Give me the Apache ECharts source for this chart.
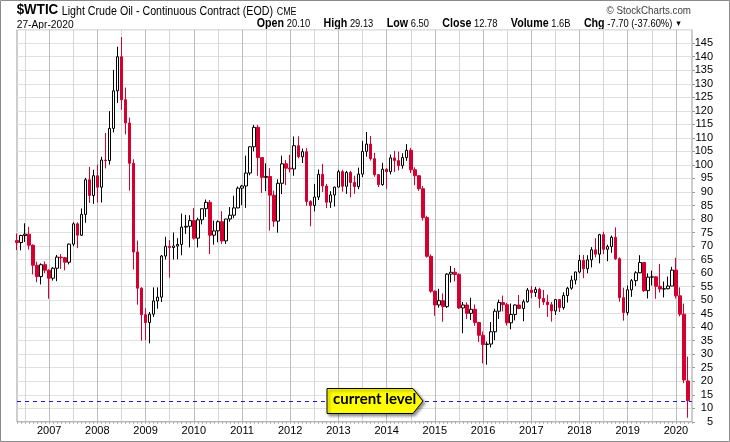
<!DOCTYPE html>
<html>
<head>
<meta charset="utf-8">
<script src="https://cdn.jsdelivr.net/npm/echarts@6/dist/echarts.min.js"></script>
<style>
  html, body { margin: 0; padding: 0; background: #fff; }
  #chart { width: 730px; height: 442px; }
</style>
</head>
<body>
<div id="chart"></div>
<script>
// monthly bars, May 2006 .. Apr 2020 (one spare slot on the right)
var firstYear = 2006, firstMonth = 5, barCount = 168, slotCount = 169;

var open = [
  72.0, 71.3, 73.9, 74.4, 70.3, 62.9, 58.7, 63.1,
  61.05, 58.1, 61.8, 65.9, 65.7, 64.0, 70.7, 78.2, 74.0, 81.7, 94.5, 88.7,
  96.0, 91.75, 101.8, 101.6, 113.5, 127.4, 140.0, 124.1, 115.5, 100.6, 67.8, 54.4,
  44.6, 41.7, 44.8, 49.7, 51.1, 66.3, 69.9, 69.45, 70.0, 70.6, 77.0, 77.3,
  79.4, 72.9, 79.7, 83.8, 86.15, 74.0, 75.6, 79.0, 71.9, 80.0, 81.4, 84.1,
  91.4, 92.2, 97.0, 106.7, 113.9, 102.7, 95.4, 95.7, 88.8, 79.2, 93.2, 100.4,
  98.8, 98.5, 107.1, 103.0, 104.9, 86.5, 85.0, 88.1, 96.5, 92.2, 86.2, 88.9,
  91.8, 97.5, 92.1, 97.2, 93.5, 92.0, 96.6, 105.0, 107.7, 102.3, 96.4, 92.7,
  98.4, 97.5, 102.6, 101.6, 99.7, 102.7, 105.4, 98.2, 96.0, 91.2, 80.5, 66.2,
  53.3, 48.2, 49.8, 47.6, 59.6, 60.3, 59.5, 47.1, 48.2, 45.1, 46.6, 41.7,
  37.0, 33.6, 33.75, 38.3, 45.9, 49.1, 48.3, 41.6, 44.7, 48.2, 46.9, 49.4,
  53.7, 52.8, 54.0, 50.6, 49.3, 48.3, 46.0, 50.2, 47.2, 51.7, 54.4, 57.4,
  60.4, 64.7, 61.6, 64.9, 68.6, 67.0, 74.2, 68.8, 69.8, 73.25, 65.3, 50.9,
  45.4, 53.8, 57.2, 60.1, 63.9, 53.5, 58.5, 58.6, 55.1, 54.1, 54.2, 55.2,
  61.1, 51.6, 44.8, 20.1
];
var high = [
  74.6, 74.2, 78.4, 77.1, 70.6, 64.2, 63.6, 64.3,
  61.4, 62.2, 66.7, 67.0, 66.0, 70.9, 78.8, 78.8, 83.9, 95.2, 99.3, 98.2,
  100.1, 103.0, 111.8, 119.9, 135.1, 143.7, 147.3, 128.6, 117.5, 102.1, 72.0, 54.8,
  47.0, 45.6, 54.7, 54.7, 66.7, 73.4, 72.2, 75.0, 72.9, 82.0, 81.5, 81.4,
  84.0, 80.5, 83.9, 87.2, 87.0, 79.4, 79.5, 82.9, 80.0, 84.4, 88.6, 92.0,
  92.6, 103.4, 106.9, 114.8, 114.8, 102.7, 100.6, 98.8, 90.5, 94.7, 103.4, 101.8,
  103.7, 110.5, 110.6, 106.0, 106.2, 86.9, 92.9, 98.3, 100.4, 93.0, 90.3, 91.9,
  98.2, 98.2, 97.8, 97.8, 96.0, 99.0, 108.9, 112.2, 110.7, 104.5, 96.6, 100.8,
  98.8, 103.8, 105.2, 104.9, 104.3, 107.7, 106.3, 99.1, 96.2, 92.2, 81.2, 66.9,
  53.6, 54.2, 52.5, 59.9, 62.6, 61.9, 59.9, 49.3, 49.2, 50.9, 48.4, 42.0,
  38.4, 34.7, 41.9, 46.8, 50.2, 51.7, 49.0, 48.75, 48.4, 51.9, 50.2, 54.5,
  55.2, 54.9, 54.6, 53.8, 52.0, 49.3, 50.4, 50.4, 52.9, 54.9, 59.05, 60.5,
  66.7, 66.7, 66.6, 69.6, 72.9, 74.5, 75.3, 70.5, 73.9, 76.9, 65.8, 54.6,
  55.4, 57.8, 60.7, 66.6, 63.9, 59.9, 60.9, 58.8, 63.4, 56.9, 58.7, 62.3,
  65.65, 54.7, 48.7, 29.13
];
var low = [
  68.5, 68.4, 71.5, 68.7, 59.5, 56.6, 55.8, 60.0,
  50.5, 57.2, 57.0, 61.5, 61.0, 63.2, 69.9, 69.2, 73.7, 78.6, 86.0, 85.6,
  86.1, 86.1, 98.7, 100.1, 112.0, 122.9, 120.4, 111.3, 90.5, 61.3, 48.3, 35.0,
  35.2, 34.0, 43.8, 46.8, 49.3, 65.0, 58.3, 65.0, 65.1, 66.6, 74.5, 69.5,
  72.4, 69.5, 78.0, 80.8, 67.0, 70.5, 71.4, 70.8, 70.8, 79.0, 80.3, 84.0,
  85.1, 84.1, 96.2, 105.0, 96.0, 89.6, 90.3, 75.7, 77.1, 74.95, 89.2, 92.5,
  97.2, 96.0, 102.4, 100.7, 84.9, 77.3, 82.8, 87.0, 90.0, 84.0, 84.1, 84.6,
  91.6, 90.1, 89.3, 88.0, 89.3, 91.0, 95.5, 103.0, 101.6, 95.6, 91.8, 92.3,
  91.2, 96.5, 97.4, 97.9, 98.6, 101.5, 97.0, 92.5, 90.4, 79.4, 65.7, 52.7,
  44.2, 47.2, 42.0, 47.1, 56.5, 56.9, 46.7, 37.75, 43.0, 42.6, 40.5, 34.5,
  26.6, 26.1, 32.5, 35.2, 43.0, 45.8, 40.6, 39.2, 42.5, 46.6, 42.2, 49.1,
  50.7, 51.2, 47.1, 48.2, 43.8, 42.05, 44.5, 45.6, 46.5, 49.1, 53.8, 55.8,
  59.9, 58.1, 59.95, 62.1, 65.8, 63.6, 67.0, 64.4, 67.5, 64.8, 49.4, 42.4,
  44.4, 51.2, 55.2, 60.0, 53.0, 50.6, 55.4, 50.5, 52.8, 50.99, 54.0, 55.2,
  50.6, 44.0, 19.3, 6.50
];
var close = [
  71.3, 73.9, 74.4, 70.3, 62.9, 58.7, 63.1, 61.05,
  58.1, 61.8, 65.9, 65.7, 64.0, 70.7, 78.2, 74.0, 81.7, 94.5, 88.7, 96.0,
  91.75, 101.8, 101.6, 113.5, 127.4, 140.0, 124.1, 115.5, 100.6, 67.8, 54.4, 44.6,
  41.7, 44.8, 49.7, 51.1, 66.3, 69.9, 69.45, 70.0, 70.6, 77.0, 77.3, 79.4,
  72.9, 79.7, 83.8, 86.15, 74.0, 75.6, 79.0, 71.9, 80.0, 81.4, 84.1, 91.4,
  92.2, 97.0, 106.7, 113.9, 102.7, 95.4, 95.7, 88.8, 79.2, 93.2, 100.4, 98.8,
  98.5, 107.1, 103.0, 104.9, 86.5, 85.0, 88.1, 96.5, 92.2, 86.2, 88.9, 91.8,
  97.5, 92.1, 97.2, 93.5, 92.0, 96.6, 105.0, 107.7, 102.3, 96.4, 92.7, 98.4,
  97.5, 102.6, 101.6, 99.7, 102.7, 105.4, 98.2, 96.0, 91.2, 80.5, 66.2, 53.3,
  48.2, 49.8, 47.6, 59.6, 60.3, 59.5, 47.1, 48.2, 45.1, 46.6, 41.7, 37.0,
  33.6, 33.75, 38.3, 45.9, 49.1, 48.3, 41.6, 44.7, 48.2, 46.9, 49.4, 53.7,
  52.8, 54.0, 50.6, 49.3, 48.3, 46.0, 50.2, 47.2, 51.7, 54.4, 57.4, 60.4,
  64.7, 61.6, 64.9, 68.6, 67.0, 74.2, 68.8, 69.8, 73.25, 65.3, 50.9, 45.4,
  53.8, 57.2, 60.1, 63.9, 53.5, 58.5, 58.6, 55.1, 54.1, 54.2, 55.2, 61.1,
  51.6, 44.8, 20.5, 12.78
];
var currentLevel = 12.78;

var months = [];
for (var i = 0; i < slotCount; i++) {
  var m = firstMonth - 1 + i;
  var y = firstYear + Math.floor(m / 12);
  var mm = (m % 12) + 1;
  months.push(y + "-" + (mm < 10 ? "0" + mm : mm));
}

var bars = [];
for (var i = 0; i < barCount; i++) {
  bars.push([open[i], close[i], low[i], high[i]]);
}

var sans = "'Liberation Sans', Arial, sans-serif";
var red = "#d40030";
var squeeze = 0.89; // header type is a bit narrower than plain Arial

function headerText(x, y, text, font, extra) {
  var el = {
    type: "text", x: x, y: y, scaleX: squeeze, silent: true,
    style: { text: text, font: font, fill: "#000", verticalAlign: "middle" }
  };
  for (var k in extra) el.style[k] = extra[k];
  return el;
}

var chart = echarts.init(document.getElementById("chart"), null, { renderer: "canvas" });
var option = {
  animation: false,
  backgroundColor: "#fff",
  grid: {
    left: 17, top: 29.7, right: 38, bottom: 20.2,
    show: true, borderColor: "#9a9a9a", borderWidth: 1
  },
  xAxis: {
    type: "category",
    data: months,
    boundaryGap: false,
    axisLine: { show: false },
    axisTick: {
      show: true, interval: 0, length: 2,
      lineStyle: { color: "#aaa" }
    },
    axisLabel: {
      interval: function (idx, val) { return val.slice(5) === "01"; },
      formatter: function (val) { return val.slice(0, 4); },
      fontFamily: sans, fontSize: 11, color: "#000", margin: 4
    },
    splitLine: {
      show: true,
      interval: function (idx, val) { return val.slice(5) === "01" || val.slice(5) === "07"; },
      lineStyle: { color: ["#d6d6d6", "#bdbdbd"], width: 1 }
    }
  },
  yAxis: {
    type: "value",
    position: "right",
    min: 5, max: 150, interval: 5,
    axisLine: { show: false },
    axisTick: { show: true, length: 3, lineStyle: { color: "#999" } },
    axisLabel: {
      showMaxLabel: false,
      align: "right", margin: 21,
      fontFamily: sans, fontSize: 11, color: "#000"
    },
    splitLine: { show: true, lineStyle: { color: "#e0e0e0", width: 1 } }
  },
  series: [
    {
      type: "candlestick",
      data: bars,
      barWidth: 3,
      clip: true,
      itemStyle: {
        color: "#fff", borderColor: "#000",
        color0: red, borderColor0: red,
        borderWidth: 1
      },
      markLine: {
        silent: true,
        symbol: ["none", "none"],
        label: { show: false },
        lineStyle: { color: "#1a1acc", type: [4, 4], width: 1 },
        data: [{ yAxis: currentLevel }]
      }
    }
  ],
  graphic: [
    {
      type: "rect", silent: true,
      shape: { x: 0.5, y: 0.5, width: 729, height: 441 },
      style: { fill: "none", stroke: "#8a8a8a", lineWidth: 1 }
    },
    headerText(16.7, 10.2, "$WTIC", "bold 15px " + sans),
    headerText(61.7, 11.6, "Light Crude Oil - Continuous Contract (EOD)", "12px " + sans),
    headerText(276.7, 11.8, "CME", "10px " + sans, {}),
    headerText(16.7, 25, "27-Apr-2020", "11.5px " + sans),
    headerText(691, 11, "\u00a9 StockCharts.com", "11px " + sans, { align: "right", fill: "#404040" }),
    headerText(682, 23.8,
      "{b|Open} {v|20.10}{g|}{b|High} {v|29.13}{g|}{b|Low} {v|6.50}{g|}{b|Close} {v|12.78}{g|}" +
      "{b|Volume} {v|1.6B}{g|}{b|Chg} {v|-7.70 (-37.60%)}{t|\u25bc}",
      "11px " + sans,
      {
        align: "right",
        rich: {
          b: { fontFamily: sans, fontWeight: "bold", fontSize: 12, color: "#000" },
          v: { fontFamily: sans, fontSize: 10.5, color: "#000" },
          g: { width: 15, fontSize: 10.5 },
          t: { fontFamily: sans, fontSize: 8, color: "#c00030", padding: [0, 0, 0, 3] }
        }
      }),
    {
      type: "polygon", z: 100,
      shape: { points: [[327, 388.5], [413, 388.5], [423, 401], [413, 413.5], [327, 413.5]] },
      style: {
        fill: "#ffff00", stroke: "#000", lineWidth: 1,
        shadowBlur: 3, shadowOffsetX: 2, shadowOffsetY: 2, shadowColor: "rgba(0,0,0,0.45)"
      }
    },
    {
      type: "text", z: 101, left: 333, top: 392,
      style: { text: "current level", font: "bold 15px Lato, 'Open Sans', sans-serif", fill: "#000" }
    }
  ]
};
chart.setOption(option);
</script>
</body>
</html>
